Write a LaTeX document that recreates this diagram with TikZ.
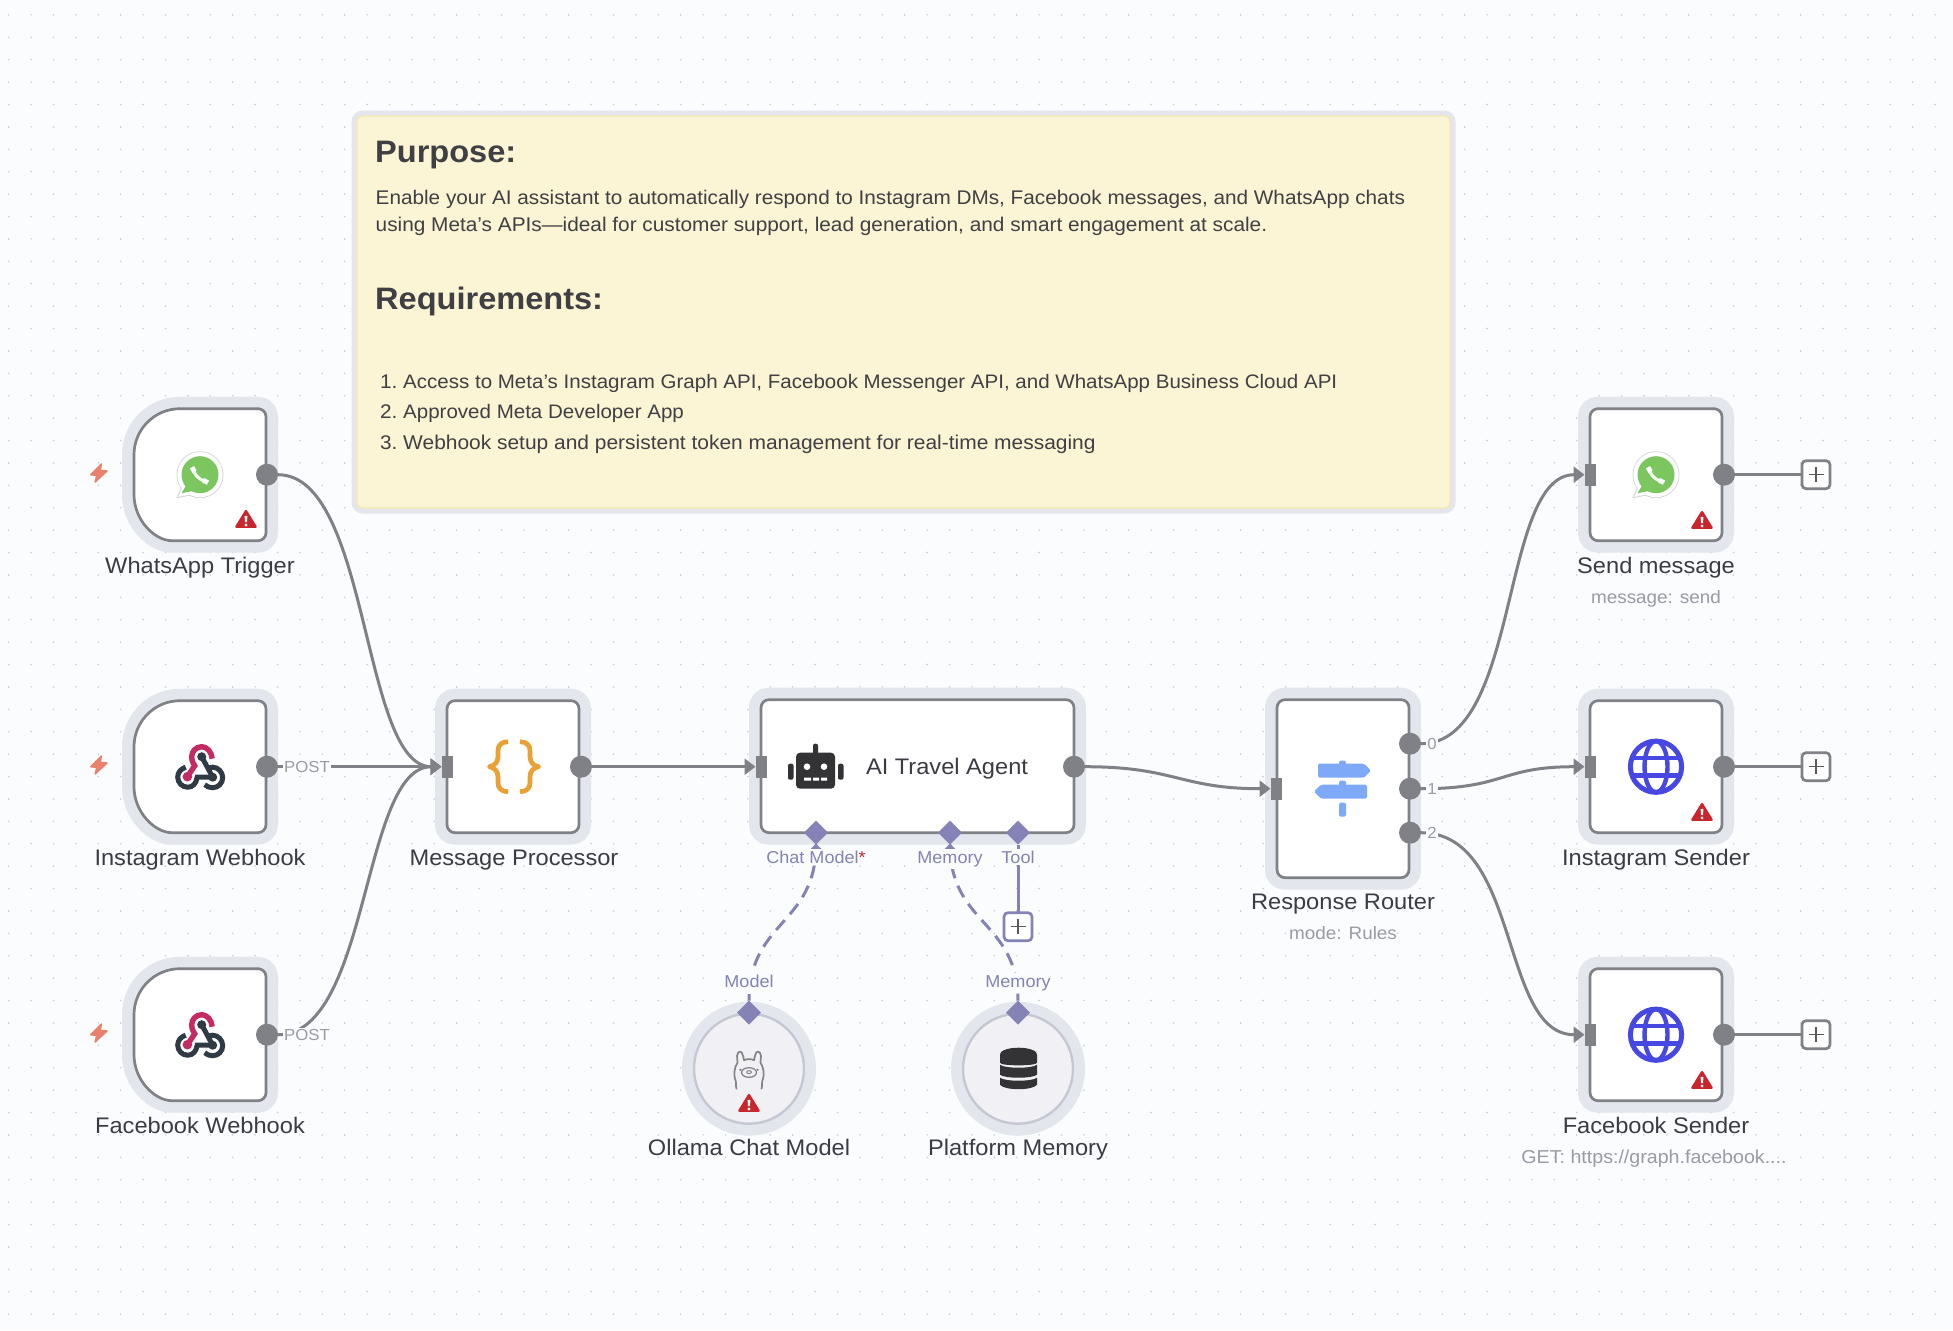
\documentclass[tikz,border=0pt]{standalone}
\usepackage{fontspec}
\setmainfont[FakeStretch=1.05]{Liberation Sans}
\usetikzlibrary{arrows.meta,shapes.geometric,calc}
\definecolor{bgc}{HTML}{FBFCFE}
\definecolor{dotc}{HTML}{CBCDD2}
\definecolor{haloc}{HTML}{E4E6EE}
\definecolor{edgec}{HTML}{808087}
\definecolor{txt}{HTML}{3B3B44}
\definecolor{subt}{HTML}{9A9BA4}
\definecolor{purp}{HTML}{8583B5}
\definecolor{warnc}{HTML}{C9252D}
\definecolor{boltc}{HTML}{E8826C}
\definecolor{notef}{HTML}{FBF4D5}
\definecolor{noteb}{HTML}{F6E8B0}
\definecolor{notet}{HTML}{404044}
\definecolor{globec}{HTML}{4747E2}
\definecolor{signc}{HTML}{7EA9F9}
\definecolor{bracec}{HTML}{EBA035}
\definecolor{hookp}{HTML}{C52B63}
\definecolor{hookd}{HTML}{2F3A44}
\definecolor{darkic}{HTML}{333336}
\definecolor{wagreen}{HTML}{7CC65F}
\definecolor{circf}{HTML}{F0F0F5}
\definecolor{circb}{HTML}{C5C8D3}
\tikzset{
 nodebox/.style={rectangle,rounded corners=8pt,draw=edgec,line width=2.7pt,fill=white,inner sep=0pt,outer sep=0pt,
   preaction={draw=haloc,line width=24pt}},
 subcirc/.style={circle,draw=circb,line width=2.4pt,fill=circf,minimum size=110pt,inner sep=0pt,outer sep=0pt,
   preaction={draw=haloc,line width=24pt}},
 outdot/.style={circle,fill=edgec,minimum size=22pt,inner sep=0pt,outer sep=0pt},
 inrect/.style={rectangle,fill=edgec,minimum width=11pt,minimum height=22pt,inner sep=0pt,outer sep=0pt},
 plusbox/.style={rectangle,rounded corners=4pt,draw=#1,line width=2.7pt,fill=white,minimum size=28pt,inner sep=0pt,outer sep=0pt},
 sqport/.style={diamond,fill=purp,minimum size=24pt,inner sep=0pt,outer sep=0pt},
 edge/.style={draw=edgec,line width=3pt,-{Triangle[length=11pt,width=16pt]}},
 plainedge/.style={draw=edgec,line width=3pt},
 subedge/.style={draw=purp,line width=3pt,dash pattern=on 13pt off 8pt},
 subsolid/.style={draw=purp,line width=3pt},
 nlabel/.style={font=\fontsize{22.5}{26}\selectfont,text=txt,inner sep=0pt,anchor=base},
 slabel/.style={font=\fontsize{18}{21}\selectfont,text=subt,inner sep=0pt,anchor=base},
 plabel/.style={font=\fontsize{16}{19}\selectfont,text=subt,fill=bgc,inner sep=1pt},
 blabel/.style={font=\fontsize{17.2}{20}\selectfont,text=purp,fill=bgc,inner sep=2pt,anchor=base},
 notehead/.style={font=\fontsize{31}{36}\selectfont\bfseries,text=notet,anchor=base west,inner sep=0pt},
 notebody/.style={font=\fontsize{19.75}{24}\selectfont,text=notet,anchor=base west,inner sep=0pt},
}
\newcommand\warnicon[2]{\begin{scope}[shift={(#1,#2)}]
 \fill[warnc,draw=warnc,line width=2.5pt,line join=round] (0,-8.5) -- (9.5,7) -- (-9.5,7) -- cycle;
 \fill[white] (-1.4,-3.8) -- (1.4,-3.8) -- (1,2.4) -- (-1,2.4) -- cycle;
 \fill[white] (0,5.2) circle[radius=1.6pt];
\end{scope}}
\newcommand\bolticon[2]{\begin{scope}[shift={(#1,#2)}]
 \fill[boltc,draw=boltc,line width=1.5pt,line join=round] (2.3,-9.7) -- (-8.3,1) -- (-2.2,1.7) -- (-3.8,8.3) -- (8,-2.7) -- (1.3,-3.3) -- cycle;
\end{scope}}
\newcommand\waicon[2]{\begin{scope}[shift={(#1,#2)}]
 \fill[white,draw=black!15,line width=1pt] (0,0) circle[radius=23pt];
 \fill[white,draw=black!15,line width=1pt,line join=round] (-18,12) -- (-23,23) -- (-8,20) -- cycle;
 \fill[white] (0,0) circle[radius=22.4pt];
 \fill[wagreen] (0,0) circle[radius=18.5pt];
 \fill[wagreen] (-14,11) -- (-18.5,18.5) -- (-6,16) -- cycle;
 \draw[white,line width=3pt,line cap=round] (-6.5,-5) .. controls (-5.5,0) and (-1,5) .. (5,6.5);
 \draw[white,line width=4.8pt] (-8,-7.5) -- (-5.5,-3);
 \draw[white,line width=4.8pt] (3,5.4) -- (8,8);
\end{scope}}
\newcommand\hookicon[2]{\begin{scope}[shift={(#1,#2)}]
 \draw[hookd,line width=5pt,line cap=round] (1,-10) -- (12,10.5);
 \draw[hookd,line width=5pt] (-15,0.5) .. controls (-20,2) and (-23,6) .. (-23,10.5) .. controls (-23,16) and (-18.5,20.5) .. (-13,20.5) .. controls (-8,20.5) and (-4.5,17) .. (-3.5,10.5) -- (12,10.5);
 \draw[hookd,line width=5pt] (4,18) .. controls (6,20) and (9,21) .. (12,21) .. controls (17.5,21) and (22,16.5) .. (22,11) .. controls (22,5.5) and (17.5,0.5) .. (12,0.5) .. controls (10,0.5) and (9,1) .. (8,1.5);
 \fill[hookd] (1,-10) circle[radius=4.5pt] (12,10.5) circle[radius=4.5pt];
 \draw[hookp,line width=5.4pt] (11.5,-8) .. controls (11,-15) and (6,-20) .. (1,-20) .. controls (-5,-20) and (-9,-15) .. (-9,-10) .. controls (-9,-5) and (-7,-3) .. (-6,-1) -- (-13.3,10);
 \fill[hookp] (-13.3,10) circle[radius=4.8pt];
\end{scope}}
\newcommand\globeicon[2]{\begin{scope}[shift={(#1,#2)}]
 \draw[globec,line width=5pt] (0,0) circle[radius=25.6pt];
 \draw[globec,line width=4.4pt] (0,0) ellipse[x radius=11.5pt,y radius=25.6pt];
 \draw[globec,line width=4.4pt] (-24,-8.7) -- (24,-8.7) (-24,8.7) -- (24,8.7);
\end{scope}}
\begin{document}
\begin{tikzpicture}[x=1pt,y=-1pt]
\useasboundingbox (0,0) rectangle (1953,1330);
\fill[bgc] (0,0) rectangle (1953,1330);
\foreach \i in {0,...,86} { \foreach \j in {0,...,58} { \fill[dotc] ({8.7+22.4*\i},{14.9+22.4*\j}) circle[radius=0.9pt]; } }

% sticky note
\node[rectangle,rounded corners=6pt,draw=noteb,line width=1.4pt,fill=notef,minimum width=1093pt,minimum height=392pt,inner sep=0pt,outer sep=0pt,
  preaction={draw=haloc,line width=11pt}] (note) at (903.5,312) {};
\node[notehead] (n1) at (375,162) {Purpose:};
\node[notebody] (n2) at (375.5,204) {Enable your AI assistant to automatically respond to Instagram DMs, Facebook messages, and WhatsApp chats};
\node[notebody,font=\fontsize{19.82}{24}\selectfont] (n3) at (375.5,231) {using Meta’s APIs—ideal for customer support, lead generation, and smart engagement at scale.};
\node[notehead] (n4) at (375,309) {Requirements:};
\node[notebody] (n5) at (380,388) {1.};
\node[notebody,font=\fontsize{19.55}{24}\selectfont] (n6) at (403,388) {Access to Meta’s Instagram Graph API, Facebook Messenger API, and WhatsApp Business Cloud API};
\node[notebody] (n7) at (380,418) {2.};
\node[notebody,font=\fontsize{19.55}{24}\selectfont] (n8) at (403,418) {Approved Meta Developer App};
\node[notebody] (n9) at (380,449) {3.};
\node[notebody,font=\fontsize{19.95}{24}\selectfont] (n10) at (403,449) {Webhook setup and persistent token management for real-time messaging};

\begin{scope}[yshift=-0.7pt]
% trigger boxes
\foreach \nm/\yy in {waT/474,igW/766,fbW/1034}{
 \begin{scope}[shift={(200,\yy)}]
 \node[minimum size=132pt,inner sep=0pt,outer sep=0pt] (\nm) at (0,0) {};
 \path[draw=haloc,line width=24pt,line join=round] (-20,-66) [rounded corners=8pt] -- (66,-66) -- (66,66) -- (-20,66) [sharp corners] .. controls (-45.4,66) and (-66,45.4) .. (-66,20) -- (-66,-20) .. controls (-66,-45.4) and (-45.4,-66) .. (-20,-66) -- cycle;
 \path[draw=edgec,fill=white,line width=2.7pt] (-20,-66) [rounded corners=8pt] -- (66,-66) -- (66,66) -- (-20,66) [sharp corners] .. controls (-45.4,66) and (-66,45.4) .. (-66,20) -- (-66,-20) .. controls (-66,-45.4) and (-45.4,-66) .. (-20,-66) -- cycle;
 \end{scope}
}
\bolticon{99}{473}\bolticon{99}{765}\bolticon{99}{1033}

% regular boxes
\node[nodebox,minimum width=132pt,minimum height=132pt] (msg) at (513,766) {};
\node[nodebox,minimum width=313pt,minimum height=133pt] (agent) at (917.5,765.5) {};
\node[nodebox,minimum width=132pt,minimum height=178pt] (router) at (1343,788) {};
\node[nodebox,minimum width=132pt,minimum height=132pt] (send) at (1656,474) {};
\node[nodebox,minimum width=132pt,minimum height=132pt] (igS) at (1656,766) {};
\node[nodebox,minimum width=132pt,minimum height=132pt] (fbS) at (1656,1034) {};
\node[subcirc] (ollama) at (749,1068) {};
\node[subcirc] (pmem) at (1018,1068) {};

% ports
\node[outdot] (waT-o) at (267,474) {};
\node[outdot] (igW-o) at (267,766) {};
\node[outdot] (fbW-o) at (267,1034) {};
\node[inrect] (msg-i) at (447,766) {};
\node[outdot] (msg-o) at (581,766) {};
\node[inrect] (agent-i) at (761,766) {};
\node[outdot] (agent-o) at (1074,766) {};
\node[inrect] (router-i) at (1276,788) {};
\node[outdot] (r0) at (1410,743) {};
\node[outdot] (r1) at (1410,788) {};
\node[outdot] (r2) at (1410,832) {};
\node[inrect] (send-i) at (1590,474) {};
\node[inrect] (igS-i) at (1590,766) {};
\node[inrect] (fbS-i) at (1590,1034) {};
\node[outdot] (send-o) at (1724,474) {};
\node[outdot] (igS-o) at (1724,766) {};
\node[outdot] (fbS-o) at (1724,1034) {};
\node[plusbox=edgec] (p1) at (1816,474) {};
\node[plusbox=edgec] (p2) at (1816,766) {};
\node[plusbox=edgec] (p3) at (1816,1034) {};
\foreach \c in {p1,p2,p3}{\draw[black!65,line width=1.1pt] ($(\c)+(-7.5,0)$) -- ($(\c)+(7.5,0)$) ($(\c)+(0,-7.5)$) -- ($(\c)+(0,7.5)$);}

% main connectors
\draw[edge] (waT-o.east) .. controls +(92,0) and +(-80,0) .. (msg-i.west);
\draw[edge] (igW-o.east) -- (msg-i.west);
\draw[edge] (fbW-o.east) .. controls +(92,0) and +(-80,0) .. (msg-i.west);
\draw[edge] (msg-o.east) -- (agent-i.west);
\draw[edge] (agent-o.east) .. controls +(90,0) and +(-90,0) .. (router-i.west);
\draw[edge] (r0.east) .. controls +(100,0) and +(-85,0) .. (send-i.west);
\draw[edge] (r1.east) .. controls +(85,0) and +(-85,0) .. (igS-i.west);
\draw[edge] (r2.east) .. controls +(100,0) and +(-85,0) .. (fbS-i.west);
\draw[plainedge] (send-o.east) -- (p1.west);
\draw[plainedge] (igS-o.east) -- (p2.west);
\draw[plainedge] (fbS-o.east) -- (p3.west);

% sub connectors
\node[sqport] (d1) at (816,832) {};
\node[sqport] (d2) at (950,832) {};
\node[sqport] (d3) at (1018,832) {};
\node[sqport] (d4) at (749,1012) {};
\node[sqport] (d5) at (1018,1012) {};
\draw[subedge] (d1.south) .. controls +(0,80) and +(0,-80) .. (d4.north);
\draw[subedge] (d2.south) .. controls +(0,80) and +(0,-80) .. (d5.north);
\node[plusbox=purp] (p4) at (1018,926) {};
\draw[black!65,line width=1.1pt] ($(p4)+(-7.5,0)$) -- ($(p4)+(7.5,0)$) ($(p4)+(0,-7.5)$) -- ($(p4)+(0,7.5)$);
\draw[subsolid] (d3.south) -- (p4.north);
\coordinate (d4up) at (749,1000);
\coordinate (d5up) at (1018,1000);
\draw[subsolid] (d4up) -- (d4.north);
\draw[subsolid] (d5up) -- (d5.north);
\fill[purp] ($(d1.south)+(0,-1)$) -- ++(7,7) -- ++(-14,0) -- cycle;
\fill[purp] ($(d2.south)+(0,-1)$) -- ++(7,7) -- ++(-14,0) -- cycle;

% connector labels
\node[plabel] (lp1) at (307,766) {POST};
\node[plabel] (lp2) at (307,1034) {POST};
\node[plabel] (l0) at (1432,743) {0};
\node[plabel] (l1) at (1432,788) {1};
\node[plabel] (l2) at (1432,832) {2};
\node[blabel] (lc) at (816,862.5) {Chat Model\textcolor{warnc}{*}};
\node[blabel] (lm) at (950,862.5) {Memory};
\node[blabel] (lt) at (1018,862.5) {Tool};
\node[blabel] (lmd) at (749,986.5) {Model};
\node[blabel] (lmm) at (1018,986.5) {Memory};

% names
\node[nlabel] (t1) at (200,572.5) {WhatsApp Trigger};
\node[nlabel] (t2) at (200,865) {Instagram Webhook};
\node[nlabel] (t3) at (200,1133) {Facebook Webhook};
\node[nlabel] (t4) at (514,865) {Message Processor};
\node[nlabel] (t5) at (947,774) {AI Travel Agent};
\node[nlabel] (t6) at (1343,909) {Response Router};
\node[slabel] (s6) at (1343,939) {mode: Rules};
\node[nlabel] (t7) at (1656,573) {Send message};
\node[slabel] (s7) at (1656,602.5) {message: send};
\node[nlabel] (t8) at (1656,865) {Instagram Sender};
\node[nlabel] (t9) at (1656,1133) {Facebook Sender};
\node[slabel,font=\fontsize{18.7}{21}\selectfont] (s9) at (1654,1162.5) {GET: https://graph.facebook....};
\node[nlabel] (t10) at (749,1155) {Ollama Chat Model};
\node[nlabel] (t11) at (1018,1155) {Platform Memory};

% icons
\waicon{200}{474}\waicon{1656}{474}
\hookicon{200.7}{766}\hookicon{200.7}{1034}
\globeicon{1656}{766}\globeicon{1656}{1034}
\warnicon{246}{519}\warnicon{1702}{520}\warnicon{1702}{812}\warnicon{1702}{1080}\warnicon{749}{1103}
% braces
\draw[bracec,line width=4.7pt,line join=round] (508,741) .. controls (501,741) and (498,745) .. (498,750) -- (498,756) .. controls (498,762) and (494,765) .. (489.5,766) .. controls (494,767) and (498,770) .. (498,776) -- (498,782) .. controls (498,787) and (501,791) .. (508,791);
\draw[bracec,line width=4.7pt,line join=round] (520,741) .. controls (527,741) and (530,745) .. (530,750) -- (530,756) .. controls (530,762) and (534,765) .. (538.5,766) .. controls (534,767) and (530,770) .. (530,776) -- (530,782) .. controls (530,787) and (527,791) .. (520,791);
% robot
\fill[darkic,rounded corners=4pt] (796,752) rectangle (835,788);
\fill[darkic,rounded corners=2pt] (813,743) rectangle (818,754);
\fill[darkic,rounded corners=2pt] (788,763) rectangle (793.5,779);
\fill[darkic,rounded corners=2pt] (838,763) rectangle (843.5,779);
\fill[white] (807,766) circle[radius=3.3pt] (824,766) circle[radius=3.3pt];
\fill[white] (804,777) rectangle (811,780) (813,777) rectangle (819,780) (821,777) rectangle (827,780);
% sign
\fill[signc,rounded corners=1.5pt] (1339,760) rectangle (1346,766);
\fill[signc,rounded corners=1.5pt] (1339,780) rectangle (1346,786);
\fill[signc,rounded corners=1.5pt] (1339,802) rectangle (1346,816);
\fill[signc,rounded corners=1.5pt] (1318,763) -- (1364,763) -- (1371,770) -- (1364,777) -- (1318,777) -- cycle;
\fill[signc,rounded corners=1.5pt] (1367,784) -- (1321,784) -- (1314,791) -- (1321,798) -- (1367,798) -- cycle;
% database
\begin{scope}[shift={(1018.5,1068)}]
 \fill[darkic] (-18.5,-14) -- (-18.5,-6) .. controls (-18.5,-2.5) and (18.5,-2.5) .. (18.5,-6) -- (18.5,-14) -- cycle;
 \fill[darkic] (0,-14.5) ellipse[x radius=18.5pt,y radius=6.5pt];
 \fill[darkic] (-18.5,-4) .. controls (-14,0) and (14,0) .. (18.5,-4) -- (18.5,6) .. controls (14,10) and (-14,10) .. (-18.5,6) -- cycle;
 \fill[darkic] (-18.5,9) .. controls (-14,13) and (14,13) .. (18.5,9) -- (18.5,16) .. controls (14,22) and (-14,22) .. (-18.5,16) -- cycle;
\end{scope}
% llama
\begin{scope}[shift={(749,1069)}]
 \draw[black!48,line width=1.7pt,line join=round,line cap=round]
  (-12.5,19) .. controls (-14,15) and (-12,13) .. (-14,9) .. controls (-15.5,5) and (-14.5,-3) .. (-11.5,-7) -- (-12,-14) .. controls (-11,-19.5) and (-7,-19.5) .. (-6,-14) -- (-5,-9.5) .. controls (-2,-11) and (2,-11) .. (5,-9.5) -- (6,-14) .. controls (7,-19.5) and (11,-19.5) .. (12,-14) -- (11.5,-7) .. controls (14.5,-3) and (15.5,5) .. (14,9) .. controls (12,13) and (14,15) .. (12.5,19);
 \draw[black!48,line width=1.3pt] (0,2.8) ellipse[x radius=7.5pt,y radius=4.8pt];
 \draw[black!48,line width=1pt] (0,2.4) ellipse[x radius=2.4pt,y radius=1.5pt];
 \fill[black!48] (-8.6,0) circle[radius=1.2pt] (8.6,0) circle[radius=1.2pt];
\end{scope}
\end{scope}
\end{tikzpicture}
\end{document}
